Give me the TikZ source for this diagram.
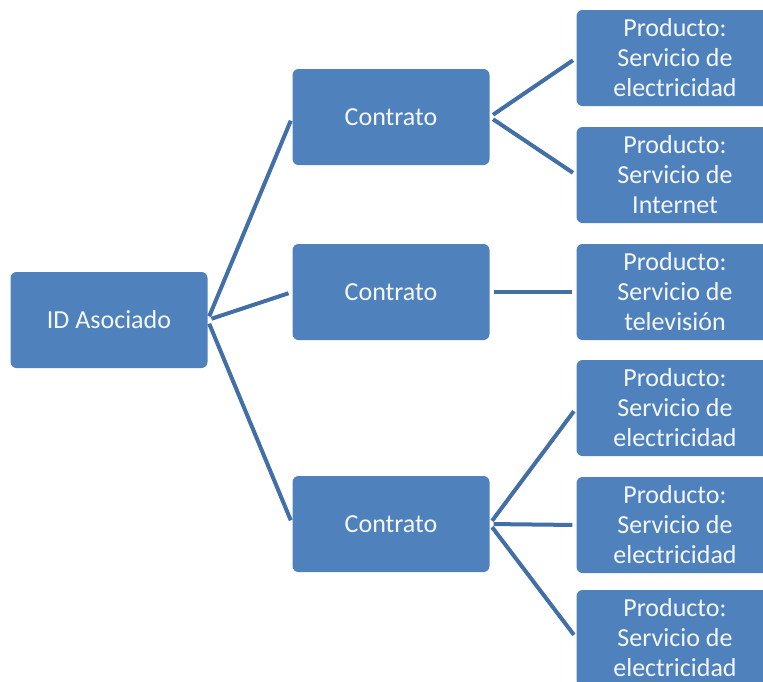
\documentclass[tikz,border=0pt]{standalone}
\usepackage{fontspec}
\setmainfont{Carlito}
\definecolor{boxblue}{HTML}{4F81BD}
\definecolor{lineblue}{HTML}{416FA6}
\definecolor{boxtext}{HTML}{F4F7FB}
\tikzset{
  itembox/.style={fill=boxblue, rounded corners=6pt, minimum width=197pt,
    minimum height=96pt, inner sep=0pt, align=center, text=boxtext,
    font=\fontsize{26}{30}\selectfont},
  link/.style={draw=lineblue, line width=4pt, shorten <=4pt, shorten >=4pt}
}
\begin{document}
\begin{tikzpicture}[x=1pt, y=-1pt]
  \clip (0,0) rectangle (763,681);
  \node[itembox] (id)  at (109,320) {ID Asociado};
  \node[itembox] (ct1) at (391,117) {Contrato};
  \node[itembox] (ct2) at (391,292) {Contrato};
  \node[itembox] (ct3) at (391,524) {Contrato};
  \node[itembox] (pr1) at (675,58)  {Producto:\\Servicio de\\electricidad};
  \node[itembox] (pr2) at (675,175) {Producto:\\Servicio de\\Internet};
  \node[itembox] (pr3) at (675,292) {Producto:\\Servicio de\\televisión};
  \node[itembox] (pr4) at (675,408) {Producto:\\Servicio de\\electricidad};
  \node[itembox] (pr5) at (675,525) {Producto:\\Servicio de\\electricidad};
  \node[itembox] (pr6) at (675,638) {Producto:\\Servicio de\\electricidad};

  \draw [link] (id.east) -- (ct1.west);
  \draw [link] (id.east) -- (ct2.west);
  \draw [link] (id.east) -- (ct3.west);
  \draw [link] (ct1.east) -- (pr1.west);
  \draw [link] (ct1.east) -- (pr2.west);
  \draw [link] (ct2.east) -- (pr3.west);
  \draw [link] (ct3.east) -- (pr4.west);
  \draw [link] (ct3.east) -- (pr5.west);
  \draw [link] (ct3.east) -- (pr6.west);
\end{tikzpicture}
\end{document}
